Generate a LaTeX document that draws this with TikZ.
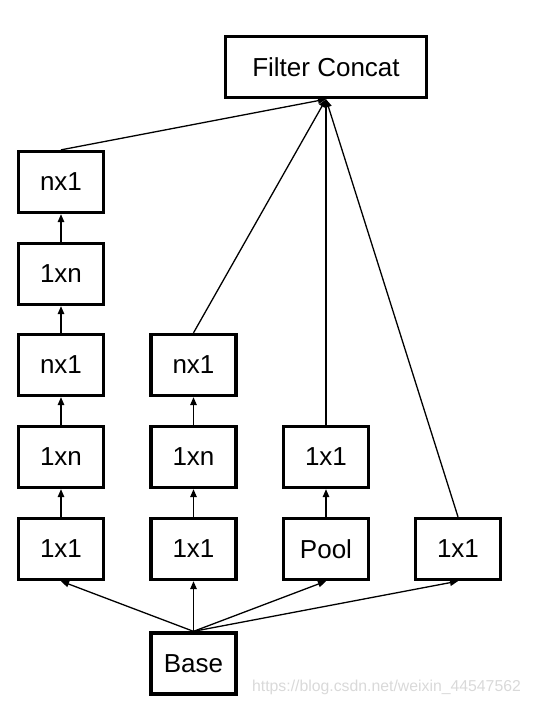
\documentclass[tikz,border=0pt]{standalone}
\usepackage{fontspec}
\setmainfont{Liberation Sans}
\usetikzlibrary{arrows.meta}
\begin{document}
\begin{tikzpicture}[x=1pt,y=-1pt,
  blk/.style={draw=black, line width=3.3pt, fill=white, minimum width=85pt, minimum height=61pt, inner sep=0pt, font=\fontsize{26}{30}\selectfont},
  conn/.style={line width=1.3pt, -{Triangle[length=8pt,width=6.5pt]}}]
\useasboundingbox (0,0) rectangle (533,705);
\node[blk, minimum width=201pt] (fc) at (326,67) {Filter Concat};
% column 1
\node[blk] (a5) at (61,182) {nx1};
\node[blk] (a4) at (61,274) {1xn};
\node[blk] (a3) at (61,365) {nx1};
\node[blk] (a2) at (61,457) {1xn};
\node[blk] (a1) at (61,549) {1x1};
% column 2
\node[blk] (b3) at (193.5,365) {nx1};
\node[blk] (b2) at (193.5,457) {1xn};
\node[blk] (b1) at (193.5,549) {1x1};
% column 3
\node[blk] (c2) at (326,457) {1x1};
\node[blk] (c1) at (326,549) {Pool};
% column 4
\node[blk] (d1) at (458,549) {1x1};
% base
\node[blk] (base) at (193.5,663.5) {Base};
% connectors
\draw[conn] (a1) -- (a2);
\draw[conn] (a2) -- (a3);
\draw[conn] (a3) -- (a4);
\draw[conn] (a4) -- (a5);
\draw[conn] (b1) -- (b2);
\draw[conn] (b2) -- (b3);
\draw[conn] (c1) -- (c2);
\draw[conn] (base.north) -- (a1.south);
\draw[conn] (base.north) -- (b1.south);
\draw[conn] (base.north) -- (c1.south);
\draw[conn] (base.north) -- (d1.south);
\draw[conn] (a5.north) -- (fc.south);
\draw[conn] (b3.north) -- (fc.south);
\draw[conn] (c2.north) -- (fc.south);
\draw[conn] (d1.north) -- (fc.south);
\node[text=black!15, font=\fontsize{15.8}{18}\selectfont, anchor=center, inner sep=0pt] (wm) at (386.5,687) {https://blog.csdn.net/weixin\_44547562};
\end{tikzpicture}
\end{document}
